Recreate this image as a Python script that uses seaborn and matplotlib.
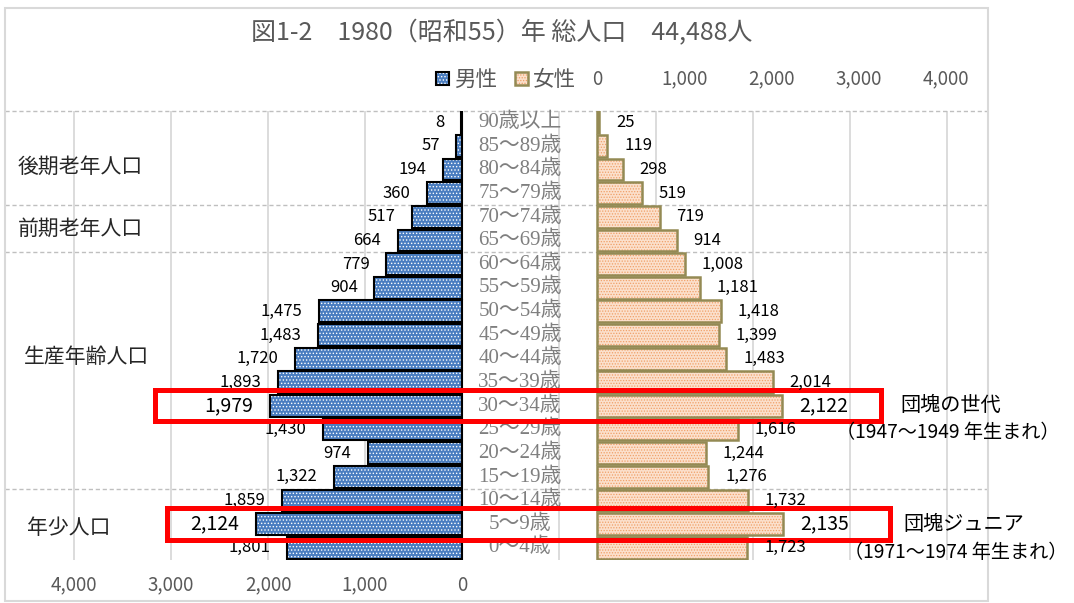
import matplotlib
matplotlib.use('Agg')
import matplotlib.pyplot as plt
import matplotlib.transforms as mtransforms
from matplotlib.patches import Patch, Rectangle
from matplotlib.legend_handler import HandlerTuple
from matplotlib.ticker import FuncFormatter
import pandas as pd
import seaborn as sns

# data
ages = ['90歳以上', '85〜89歳', '80〜84歳', '75〜79歳', '70〜74歳', '65〜69歳',
        '60〜64歳', '55〜59歳', '50〜54歳', '45〜49歳', '40〜44歳', '35〜39歳',
        '30〜34歳', '25〜29歳', '20〜24歳', '15〜19歳', '10〜14歳', '5〜9歳', '0〜4歳']
male = [8, 57, 194, 360, 517, 664, 779, 904, 1475, 1483, 1720, 1893,
        1979, 1430, 974, 1322, 1859, 2124, 1801]
female = [25, 119, 298, 519, 719, 914, 1008, 1181, 1418, 1399, 1483, 2014,
          2122, 1616, 1244, 1276, 1732, 2135, 1723]
ticks = [0, 1000, 2000, 3000, 4000]
highlight_rows = [12, 17]
group_labels = ['後期老年人口', '前期老年人口', '生産年齢人口', '年少人口']
group_rows = [1.9, 4.5, 9.95, 17.15]
group_boundaries = [-0.5, 3.5, 5.5, 15.5]
title = '図1-2　1980（昭和55）年 総人口　44,488人'

MALE_FACE = '#4a7dc0'
FEMALE_FACE = '#fbe0cc'
FEMALE_DOTS = '#f0a068'
FEMALE_EDGE = '#948a54'
GRAY = '#595959'

sns.set_style('white')
plt.rcParams['font.family'] = ['Noto Sans CJK JP', 'DejaVu Sans']
plt.rcParams['hatch.linewidth'] = 0.6

W, H = 1074, 603
fig = plt.figure(figsize=(W / 100, H / 100), dpi=100)


def fx(p):
    return p / W


def fy(p):
    return 1 - p / H


# plot area in pixels
AX_L, AX_R, AX_T, AX_B = 5, 988, 110.5, 559.5
ax = fig.add_axes([fx(AX_L), fy(AX_B), fx(AX_R - AX_L), (AX_B - AX_T) / H])
ax2 = ax.twiny()

df = pd.DataFrame({'age': ages, 'male': male, 'female': female})


def draw_bars(axis, col, face, dots, hatch, edge, lw):
    n0 = len(axis.patches)
    sns.barplot(data=df, x=col, y='age', orient='h', ax=axis, color=face,
                width=0.92, errorbar=None, saturation=1)
    for p in axis.patches[n0:]:
        p.set_edgecolor(dots)
        p.set_hatch(hatch)
        p.set_linewidth(0)
    n1 = len(axis.patches)
    sns.barplot(data=df, x=col, y='age', orient='h', ax=axis, color=edge,
                width=0.92, errorbar=None, saturation=1)
    for p in axis.patches[n1:]:
        p.set_facecolor('none')
        p.set_edgecolor(edge)
        p.set_linewidth(lw)


draw_bars(ax, 'male', MALE_FACE, 'white', '.....', 'black', 1.5)
draw_bars(ax2, 'female', FEMALE_FACE, FEMALE_DOTS, '......', FEMALE_EDGE, 1.8)

# male axis: 0 at x=462px, 97px per 1000
m_zero, m_scale = 462, 97 / 1000
ax.set_xlim((m_zero - AX_L) / m_scale, -(AX_R - m_zero) / m_scale)
# female axis: 0 at x=597px, 87.3px per 1000
f_zero, f_scale = 597, 87.3 / 1000
ax2.set_xlim(-(f_zero - AX_L) / f_scale, (AX_R - f_zero) / f_scale)
ax.set_ylim(18.5, -0.5)

fmt = FuncFormatter(lambda v, _: f'{int(v):,}')
ax.set_xticks(ticks)
ax.set_xticks([-t for t in ticks[1:]] + [-5000], minor=True)
ax.xaxis.set_major_formatter(fmt)
ax.tick_params(axis='x', which='both', length=0, pad=11, labelsize=13.5, labelcolor=GRAY)
ax.tick_params(axis='y', left=False, labelleft=False)
ax.grid(axis='x', which='both', color='#d9d9d9', linewidth=1.3)
ax.grid(axis='y', visible=False)
ax.set_axisbelow(True)

ax2.set_xticks(ticks)
ax2.xaxis.set_major_formatter(fmt)
ax2.xaxis.set_ticks_position('top')
ax2.tick_params(axis='x', length=0, pad=15, labelsize=13.5, labelcolor=GRAY)
ax2.grid(False)

for a in (ax, ax2):
    a.set_xlabel('')
    a.set_ylabel('')
    for s in a.spines.values():
        s.set_visible(False)

for b in group_boundaries:
    ax.axhline(b, color='#bfbfbf', linewidth=1, linestyle=(0, (3, 2)), zorder=0.8, clip_on=False)

blend = mtransforms.blended_transform_factory(ax.transAxes, ax.transData)

# age labels in the middle column
age_x = (520 - AX_L) / (AX_R - AX_L)
for i, a in enumerate(ages):
    ax.text(age_x, i, a, transform=blend, ha='center', va='center', fontsize=15,
            color='#7f7f7f', family=['Liberation Serif', 'Noto Sans CJK JP'])

# group labels
group_x = [18, 18, 24, 27]
for lab, r, gx in zip(group_labels, group_rows, group_x):
    ax.text((gx - AX_L) / (AX_R - AX_L), r, lab, transform=blend, ha='left',
            va='center', fontsize=15, color='#262626')

# value labels
for i, (m, f) in enumerate(zip(male, female)):
    size = 14 if i in highlight_rows else 12
    ax.annotate(f'{m:,}', xy=(m, i), xytext=(-12, 0), textcoords='offset points',
                ha='right', va='center', fontsize=size, color='black')
    ax2.annotate(f'{f:,}', xy=(f, i), xytext=(12, 0), textcoords='offset points',
                 ha='left', va='center', fontsize=size, color='black', zorder=6)

# red boxes around the two baby-boom rows
blend2 = mtransforms.blended_transform_factory(ax2.transAxes, ax2.transData)
for r, x0, x1 in [(12, 155, 881), (17, 167, 890)]:
    fx0 = (x0 - AX_L) / (AX_R - AX_L)
    fx1 = (x1 - AX_L) / (AX_R - AX_L)
    ax2.add_patch(Rectangle((fx0, r - 0.66), fx1 - fx0, 1.32, transform=blend2,
                            fill=False, edgecolor='#ff0000', linewidth=3.6,
                            zorder=5, clip_on=False))

# annotations
fig.text(fx(900), fy(405), '団塊の世代', ha='left', va='center', fontsize=14.5, color='black')
fig.text(fx(836), fy(432), '（1947〜1949 年生まれ）', ha='left', va='center', fontsize=13.8, color='black')
fig.text(fx(903), fy(525), '団塊ジュニア', ha='left', va='center', fontsize=14.5, color='black')
fig.text(fx(844), fy(553), '（1971〜1974 年生まれ）', ha='left', va='center', fontsize=13.8, color='black')

# legend
h_male = (Patch(facecolor=MALE_FACE, edgecolor='white', hatch='.....', linewidth=0),
          Patch(facecolor='none', edgecolor='black', linewidth=1.5))
h_female = (Patch(facecolor=FEMALE_FACE, edgecolor=FEMALE_DOTS, hatch='......', linewidth=0),
            Patch(facecolor='none', edgecolor=FEMALE_EDGE, linewidth=1.8))
leg = fig.legend([h_male, h_female], ['男性', '女性'], loc='center',
                 bbox_to_anchor=(fx(506), fy(80)), ncol=2, frameon=False, fontsize=15.5,
                 handlelength=0.6, handleheight=0.6, handletextpad=0.25, columnspacing=0.8,
                 handler_map={tuple: HandlerTuple(ndivide=1)})
for t in leg.get_texts():
    t.set_color(GRAY)

fig.text(fx(502), fy(33), title, ha='center', va='center', fontsize=18, color=GRAY)

fig.add_artist(Rectangle((fx(5), fy(601)), fx(983), (601 - 8) / H, transform=fig.transFigure,
                         fill=False, edgecolor='#d9d9d9', linewidth=1.5))

fig.savefig('out.png', dpi=100)
